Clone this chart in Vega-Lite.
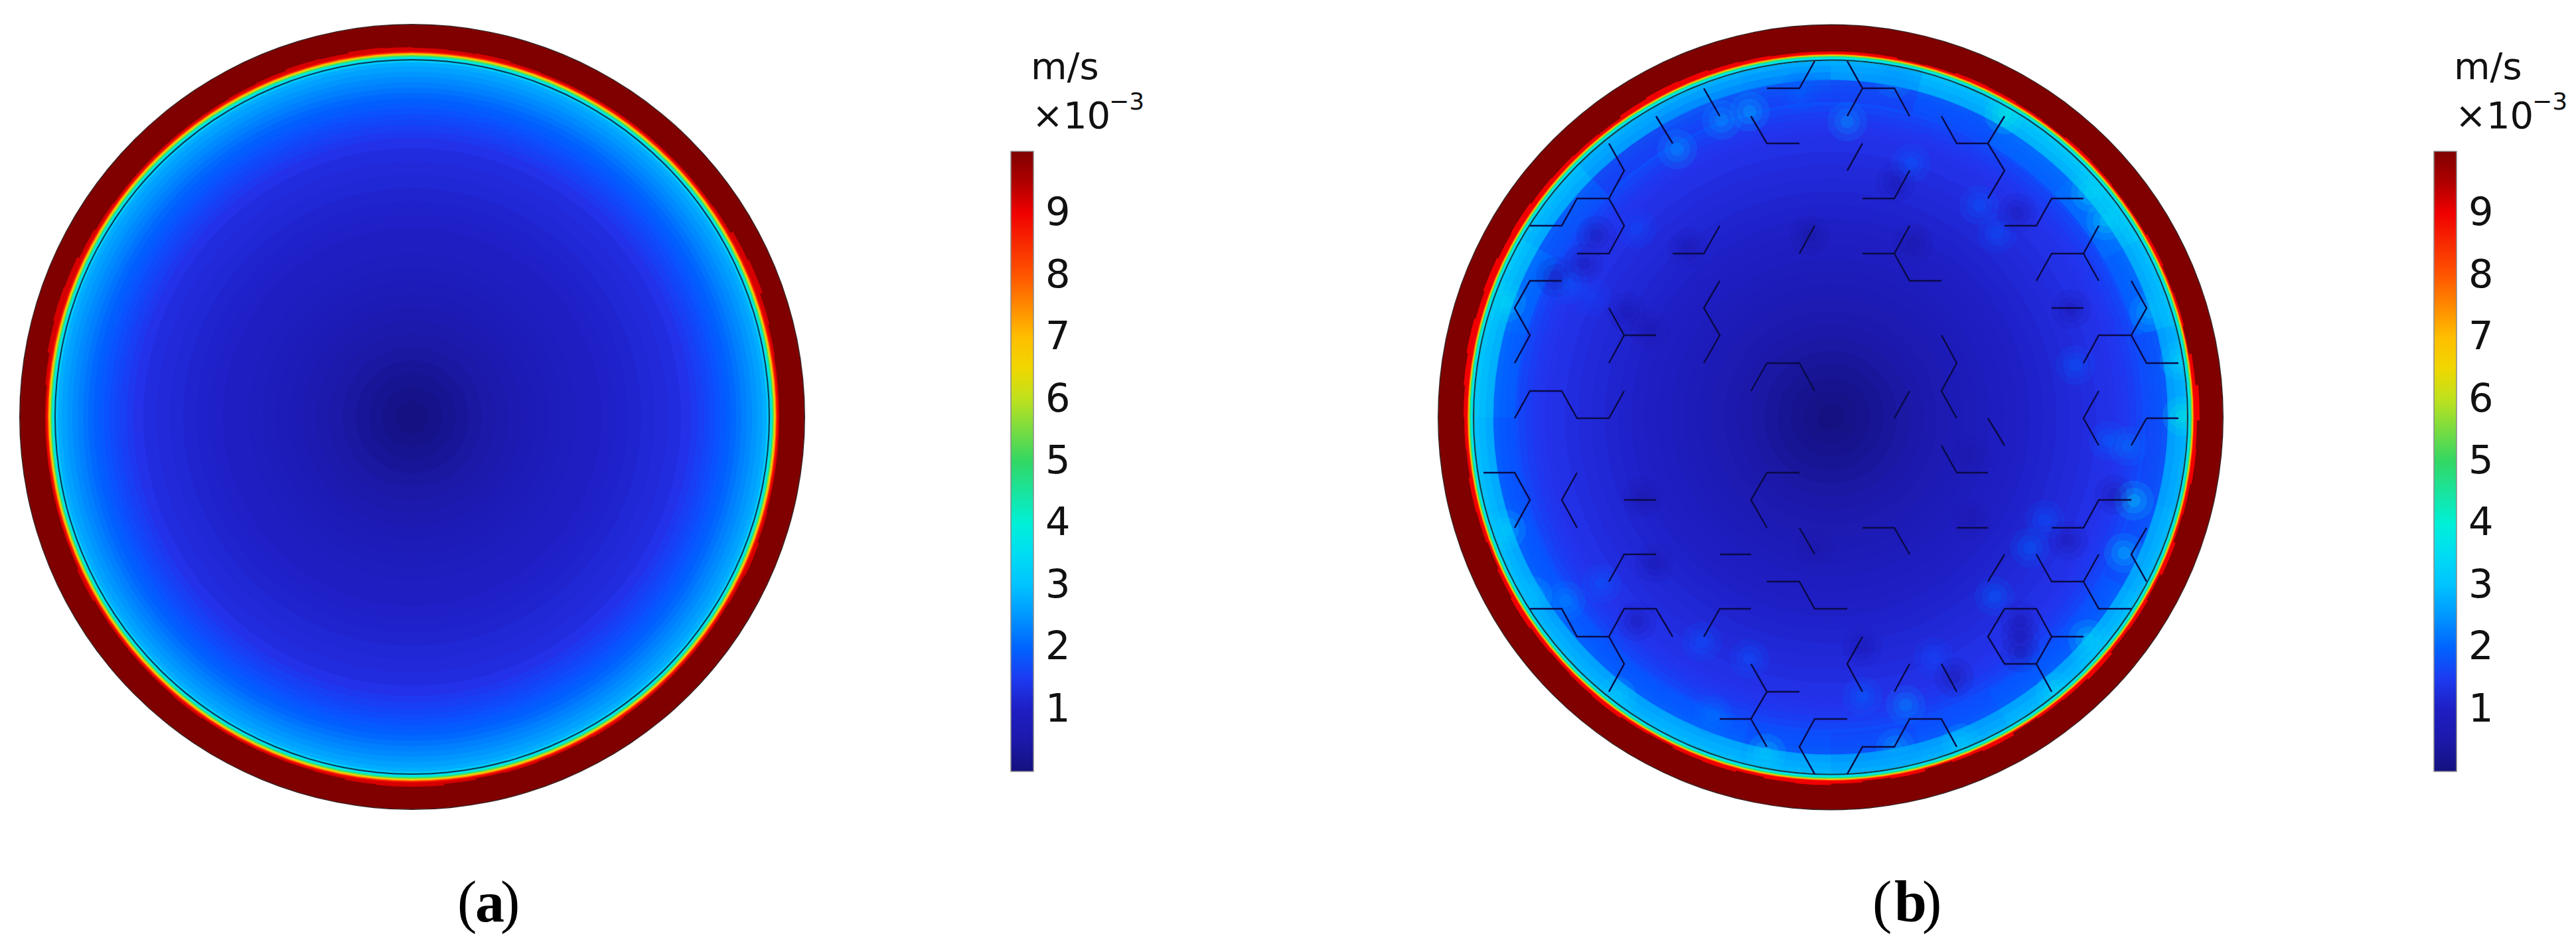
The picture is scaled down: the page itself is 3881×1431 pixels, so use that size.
{"$schema":"https://vega.github.io/schema/vega-lite/v6.json","width":3881,"height":1431,"padding":0,"autosize":{"type":"none"},"background":"white","config":{"view":{"stroke":null}},
"datasets":{
"a":[{"t0":0,"t1":360,"r0":0,"r":591,"v":10},
{"t0":0,"t1":5.5,"r0":0,"r":556,"v":9.2},{"t0":5,"t1":10.5,"r0":0,"r":555,"v":9.2},{"t0":10,"t1":15.5,"r0":0,"r":556,"v":9.2},{"t0":15,"t1":20.5,"r0":0,"r":554,"v":9.2},{"t0":20,"t1":25.5,"r0":0,"r":553,"v":9.2},{"t0":25,"t1":30.5,"r0":0,"r":553,"v":9.2},{"t0":30,"t1":35.5,"r0":0,"r":553,"v":9.2},{"t0":35,"t1":40.5,"r0":0,"r":553,"v":9.2},{"t0":40,"t1":45.5,"r0":0,"r":553,"v":9.2},{"t0":45,"t1":50.5,"r0":0,"r":553,"v":9.2},{"t0":50,"t1":55.5,"r0":0,"r":553,"v":9.2},{"t0":55,"t1":60.5,"r0":0,"r":554,"v":9.2},{"t0":60,"t1":65.5,"r0":0,"r":558,"v":9.2},{"t0":65,"t1":70.5,"r0":0,"r":560,"v":9.2},{"t0":70,"t1":75.5,"r0":0,"r":556,"v":9.2},{"t0":75,"t1":80.5,"r0":0,"r":554,"v":9.2},{"t0":80,"t1":85.5,"r0":0,"r":553,"v":9.2},{"t0":85,"t1":90.5,"r0":0,"r":553,"v":9.2},{"t0":90,"t1":95.5,"r0":0,"r":553,"v":9.2},{"t0":95,"t1":100.5,"r0":0,"r":553,"v":9.2},{"t0":100,"t1":105.5,"r0":0,"r":553,"v":9.2},{"t0":105,"t1":110.5,"r0":0,"r":554,"v":9.2},{"t0":110,"t1":115.5,"r0":0,"r":556,"v":9.2},{"t0":115,"t1":120.5,"r0":0,"r":554,"v":9.2},{"t0":120,"t1":125.5,"r0":0,"r":553,"v":9.2},{"t0":125,"t1":130.5,"r0":0,"r":553,"v":9.2},{"t0":130,"t1":135.5,"r0":0,"r":553,"v":9.2},{"t0":135,"t1":140.5,"r0":0,"r":553,"v":9.2},{"t0":140,"t1":145.5,"r0":0,"r":553,"v":9.2},{"t0":145,"t1":150.5,"r0":0,"r":554,"v":9.2},{"t0":150,"t1":155.5,"r0":0,"r":553,"v":9.2},{"t0":155,"t1":160.5,"r0":0,"r":553,"v":9.2},{"t0":160,"t1":165.5,"r0":0,"r":554,"v":9.2},{"t0":165,"t1":170.5,"r0":0,"r":553,"v":9.2},{"t0":170,"t1":175.5,"r0":0,"r":555,"v":9.2},{"t0":175,"t1":180.5,"r0":0,"r":557,"v":9.2},{"t0":180,"t1":185.5,"r0":0,"r":557,"v":9.2},{"t0":185,"t1":190.5,"r0":0,"r":556,"v":9.2},{"t0":190,"t1":195.5,"r0":0,"r":554,"v":9.2},{"t0":195,"t1":200.5,"r0":0,"r":553,"v":9.2},{"t0":200,"t1":205.5,"r0":0,"r":553,"v":9.2},{"t0":205,"t1":210.5,"r0":0,"r":553,"v":9.2},{"t0":210,"t1":215.5,"r0":0,"r":553,"v":9.2},{"t0":215,"t1":220.5,"r0":0,"r":554,"v":9.2},{"t0":220,"t1":225.5,"r0":0,"r":553,"v":9.2},{"t0":225,"t1":230.5,"r0":0,"r":553,"v":9.2},{"t0":230,"t1":235.5,"r0":0,"r":553,"v":9.2},{"t0":235,"t1":240.5,"r0":0,"r":553,"v":9.2},{"t0":240,"t1":245.5,"r0":0,"r":555,"v":9.2},{"t0":245,"t1":250.5,"r0":0,"r":553,"v":9.2},{"t0":250,"t1":255.5,"r0":0,"r":553,"v":9.2},{"t0":255,"t1":260.5,"r0":0,"r":553,"v":9.2},{"t0":260,"t1":265.5,"r0":0,"r":553,"v":9.2},{"t0":265,"t1":270.5,"r0":0,"r":553,"v":9.2},{"t0":270,"t1":275.5,"r0":0,"r":553,"v":9.2},{"t0":275,"t1":280.5,"r0":0,"r":555,"v":9.2},{"t0":280,"t1":285.5,"r0":0,"r":558,"v":9.2},{"t0":285,"t1":290.5,"r0":0,"r":560,"v":9.2},{"t0":290,"t1":295.5,"r0":0,"r":559,"v":9.2},{"t0":295,"t1":300.5,"r0":0,"r":556,"v":9.2},{"t0":300,"t1":305.5,"r0":0,"r":554,"v":9.2},{"t0":305,"t1":310.5,"r0":0,"r":553,"v":9.2},{"t0":310,"t1":315.5,"r0":0,"r":553,"v":9.2},{"t0":315,"t1":320.5,"r0":0,"r":553,"v":9.2},{"t0":320,"t1":325.5,"r0":0,"r":553,"v":9.2},{"t0":325,"t1":330.5,"r0":0,"r":553,"v":9.2},{"t0":330,"t1":335.5,"r0":0,"r":554,"v":9.2},{"t0":335,"t1":340.5,"r0":0,"r":555,"v":9.2},{"t0":340,"t1":345.5,"r0":0,"r":557,"v":9.2},{"t0":345,"t1":350.5,"r0":0,"r":556,"v":9.2},{"t0":350,"t1":355.5,"r0":0,"r":558,"v":9.2},{"t0":355,"t1":360,"r0":0,"r":557,"v":9.2},
{"t0":0,"t1":360,"r0":0,"r":551,"v":8.8},{"t0":0,"t1":360,"r0":0,"r":549,"v":8},{"t0":0,"t1":360,"r0":0,"r":548,"v":7.2},{"t0":0,"t1":360,"r0":0,"r":546.5,"v":6.3},{"t0":0,"t1":360,"r0":0,"r":545,"v":5.4},{"t0":0,"t1":360,"r0":0,"r":543.5,"v":4.5},{"t0":0,"t1":360,"r0":0,"r":542,"v":3.9},{"t0":0,"t1":360,"r0":0,"r":540,"v":3.1},{"t0":0,"t1":360,"r0":0,"r":534,"v":2.75},{"t0":0,"t1":360,"r0":0,"r":528,"v":2.62},{"t0":0,"t1":360,"r0":0,"r":520,"v":2.5},{"t0":0,"t1":360,"r0":0,"r":512,"v":2.38},{"t0":0,"t1":360,"r0":0,"r":504,"v":2.28},{"t0":0,"t1":360,"r0":0,"r":496,"v":2.16},{"t0":0,"t1":360,"r0":0,"r":488,"v":2.04},{"t0":0,"t1":360,"r0":0,"r":480,"v":1.94},{"t0":0,"t1":360,"r0":0,"r":472,"v":1.85},{"t0":0,"t1":360,"r0":0,"r":464,"v":1.76},{"t0":0,"t1":360,"r0":0,"r":456,"v":1.68},{"t0":0,"t1":360,"r0":0,"r":448,"v":1.62},{"t0":0,"t1":360,"r0":0,"r":440,"v":1.55},{"t0":0,"t1":360,"r0":0,"r":430,"v":1.47},{"t0":0,"t1":360,"r0":0,"r":420,"v":1.38},{"t0":0,"t1":360,"r0":0,"r":405,"v":1.28},{"t0":0,"t1":360,"r0":0,"r":385,"v":1.22},{"t0":0,"t1":360,"r0":0,"r":365,"v":1.17},{"t0":0,"t1":360,"r0":0,"r":345,"v":1.12},{"t0":0,"t1":360,"r0":0,"r":325,"v":1.08},{"t0":0,"t1":360,"r0":0,"r":305,"v":1.04},{"t0":0,"t1":360,"r0":0,"r":285,"v":1.0},{"t0":0,"t1":360,"r0":0,"r":265,"v":0.95},{"t0":0,"t1":360,"r0":0,"r":245,"v":0.9},{"t0":0,"t1":360,"r0":0,"r":225,"v":0.85},{"t0":0,"t1":360,"r0":0,"r":205,"v":0.79},{"t0":0,"t1":360,"r0":0,"r":185,"v":0.72},{"t0":0,"t1":360,"r0":0,"r":165,"v":0.64},{"t0":0,"t1":360,"r0":0,"r":145,"v":0.56},{"t0":0,"t1":360,"r0":0,"r":125,"v":0.48},{"t0":0,"t1":360,"r0":0,"r":105,"v":0.4},{"t0":0,"t1":360,"r0":0,"r":85,"v":0.3},{"t0":0,"t1":360,"r0":0,"r":65,"v":0.21},{"t0":0,"t1":360,"r0":0,"r":45,"v":0.12},{"t0":0,"t1":360,"r0":0,"r":25,"v":0.05}],
"bInner":[{"r":537,"v":2.85},{"r":530,"v":2.6},{"r":520,"v":2.3},{"r":510,"v":2.1},{"r":500,"v":1.95},{"r":490,"v":1.8},{"r":480,"v":1.7},{"r":470,"v":1.6},{"r":460,"v":1.52},{"r":450,"v":1.46},{"r":440,"v":1.42},{"r":430,"v":1.38},{"r":420,"v":1.35},{"r":400,"v":1.28},{"r":380,"v":1.22},{"r":360,"v":1.17},{"r":340,"v":1.12},{"r":320,"v":1.07},{"r":300,"v":1.02},{"r":280,"v":0.97},{"r":260,"v":0.92},{"r":240,"v":0.86},{"r":220,"v":0.8},{"r":200,"v":0.73},{"r":180,"v":0.66},{"r":160,"v":0.58},{"r":140,"v":0.5},{"r":120,"v":0.42},{"r":100,"v":0.34},{"r":80,"v":0.26},{"r":60,"v":0.18},{"r":40,"v":0.1},{"r":20,"v":0.04}],
"bOver":[{"t0":-15,"t1":15,"r0":475,"r":508,"v":1.4},{"t0":-15,"t1":15,"r0":508,"r":537,"v":2.5},{"t0":0,"t1":30,"r0":475,"r":508,"v":1.6},{"t0":0,"t1":30,"r0":508,"r":537,"v":2.8},{"t0":15,"t1":45,"r0":475,"r":508,"v":1.8},{"t0":15,"t1":45,"r0":508,"r":537,"v":3.1},{"t0":30,"t1":60,"r0":475,"r":508,"v":2.2},{"t0":30,"t1":60,"r0":508,"r":537,"v":3.3},{"t0":45,"t1":75,"r0":475,"r":508,"v":2.2},{"t0":45,"t1":75,"r0":508,"r":537,"v":3.3},{"t0":60,"t1":90,"r0":475,"r":508,"v":1.9},{"t0":60,"t1":90,"r0":508,"r":537,"v":2.9},{"t0":75,"t1":105,"r0":475,"r":508,"v":1.6},{"t0":75,"t1":105,"r0":508,"r":537,"v":2.7},{"t0":90,"t1":120,"r0":475,"r":508,"v":1.6},{"t0":90,"t1":120,"r0":508,"r":537,"v":2.8},{"t0":105,"t1":135,"r0":475,"r":508,"v":1.7},{"t0":105,"t1":135,"r0":508,"r":537,"v":2.9},{"t0":120,"t1":150,"r0":475,"r":508,"v":1.9},{"t0":120,"t1":150,"r0":508,"r":537,"v":3.0},{"t0":135,"t1":165,"r0":475,"r":508,"v":1.8},{"t0":135,"t1":165,"r0":508,"r":537,"v":2.8},{"t0":150,"t1":180,"r0":475,"r":508,"v":1.7},{"t0":150,"t1":180,"r0":508,"r":537,"v":2.7},{"t0":165,"t1":195,"r0":475,"r":508,"v":1.6},{"t0":165,"t1":195,"r0":508,"r":537,"v":2.7},{"t0":180,"t1":210,"r0":475,"r":508,"v":1.8},{"t0":180,"t1":210,"r0":508,"r":537,"v":2.9},{"t0":195,"t1":225,"r0":475,"r":508,"v":1.9},{"t0":195,"t1":225,"r0":508,"r":537,"v":2.9},{"t0":210,"t1":240,"r0":475,"r":508,"v":1.8},{"t0":210,"t1":240,"r0":508,"r":537,"v":2.8},{"t0":225,"t1":255,"r0":475,"r":508,"v":1.9},{"t0":225,"t1":255,"r0":508,"r":537,"v":2.9},{"t0":240,"t1":270,"r0":475,"r":508,"v":1.8},{"t0":240,"t1":270,"r0":508,"r":537,"v":3.0},{"t0":255,"t1":285,"r0":475,"r":508,"v":1.8},{"t0":255,"t1":285,"r0":508,"r":537,"v":3.0},{"t0":270,"t1":300,"r0":475,"r":508,"v":2.1},{"t0":270,"t1":300,"r0":508,"r":537,"v":3.3},{"t0":285,"t1":315,"r0":475,"r":508,"v":2.1},{"t0":285,"t1":315,"r0":508,"r":537,"v":3.2},{"t0":300,"t1":330,"r0":475,"r":508,"v":1.6},{"t0":300,"t1":330,"r0":508,"r":537,"v":2.9},{"t0":315,"t1":345,"r0":475,"r":508,"v":1.4},{"t0":315,"t1":345,"r0":508,"r":537,"v":2.6}],
"spots":[{"x":2636,"y":168,"v":2.8},{"x":2594,"y":181,"v":2.6},{"x":2527,"y":225,"v":2.6},{"x":2711,"y":137,"v":2},{"x":2269,"y":455,"v":3.5},{"x":2397,"y":447,"v":1.6},{"x":2466,"y":344,"v":1.7},{"x":2363,"y":428,"v":1.9},{"x":2783,"y":183,"v":2.5},{"x":2879,"y":246,"v":1.9},{"x":2854,"y":118,"v":2.5},{"x":3020,"y":172,"v":4},{"x":2982,"y":309,"v":1.9},{"x":3009,"y":351,"v":1.8},{"x":3150,"y":290,"v":3.5},{"x":3173,"y":332,"v":3.5},{"x":3238,"y":470,"v":3},{"x":3127,"y":550,"v":1.9},{"x":3288,"y":627,"v":4},{"x":3284,"y":543,"v":3.5},{"x":2269,"y":798,"v":3.3},{"x":2359,"y":905,"v":2.4},{"x":2309,"y":898,"v":3},{"x":2413,"y":879,"v":1.9},{"x":2564,"y":967,"v":1.8},{"x":2636,"y":992,"v":1.8},{"x":2435,"y":1049,"v":3.2},{"x":2661,"y":1135,"v":3.3},{"x":2581,"y":1078,"v":2.2},{"x":3215,"y":754,"v":3.3},{"x":3200,"y":833,"v":3},{"x":3146,"y":963,"v":3.4},{"x":3058,"y":825,"v":2},{"x":3005,"y":898,"v":2},{"x":3081,"y":783,"v":1.8},{"x":2806,"y":1049,"v":2},{"x":2871,"y":1062,"v":2.4},{"x":2955,"y":1120,"v":3.2},{"x":2856,"y":1127,"v":2.7},{"x":3097,"y":1043,"v":3.5},{"x":3177,"y":664,"v":2},{"x":3206,"y":672,"v":2.2},{"x":2913,"y":990,"v":1.7},{"x":2386,"y":397,"v":0.6},{"x":2344,"y":417,"v":0.6},{"x":2451,"y":470,"v":0.6},{"x":2485,"y":497,"v":0.6},{"x":2405,"y":355,"v":0.6},{"x":2543,"y":374,"v":0.6},{"x":2726,"y":355,"v":0.4},{"x":2856,"y":275,"v":0.6},{"x":2882,"y":367,"v":0.5},{"x":3120,"y":466,"v":0.6},{"x":3039,"y":321,"v":0.7},{"x":2474,"y":749,"v":0.5},{"x":2493,"y":848,"v":0.6},{"x":2734,"y":825,"v":0.5},{"x":2466,"y":936,"v":0.7},{"x":2970,"y":783,"v":0.6},{"x":2944,"y":1020,"v":0.5},{"x":2806,"y":974,"v":0.7},{"x":3116,"y":814,"v":0.6},{"x":3185,"y":745,"v":0.6},{"x":2970,"y":687,"v":0.5},{"x":3044,"y":959,"v":0.6},{"x":3044,"y":935,"v":0.6},{"x":3044,"y":983,"v":0.6}],
"bEdge":[{"t0":0,"t1":360,"r":591,"v":10},
{"t0":0,"t1":5.5,"r":551,"v":9},{"t0":5,"t1":10.5,"r":551,"v":9},{"t0":10,"t1":15.5,"r":549,"v":9},{"t0":15,"t1":20.5,"r":550,"v":9},{"t0":20,"t1":25.5,"r":552,"v":9},{"t0":25,"t1":30.5,"r":551,"v":9},{"t0":30,"t1":35.5,"r":550,"v":9},{"t0":35,"t1":40.5,"r":549,"v":9},{"t0":40,"t1":45.5,"r":551,"v":9},{"t0":45,"t1":50.5,"r":550,"v":9},{"t0":50,"t1":55.5,"r":549,"v":9},{"t0":55,"t1":60.5,"r":549,"v":9},{"t0":60,"t1":65.5,"r":551,"v":9},{"t0":65,"t1":70.5,"r":549,"v":9},{"t0":70,"t1":75.5,"r":550,"v":9},{"t0":75,"t1":80.5,"r":548,"v":9},{"t0":80,"t1":85.5,"r":552,"v":9},{"t0":85,"t1":90.5,"r":556,"v":9},{"t0":90,"t1":95.5,"r":552,"v":9},{"t0":95,"t1":100.5,"r":553,"v":9},{"t0":100,"t1":105.5,"r":551,"v":9},{"t0":105,"t1":110.5,"r":550,"v":9},{"t0":110,"t1":115.5,"r":553,"v":9},{"t0":115,"t1":120.5,"r":550,"v":9},{"t0":120,"t1":125.5,"r":552,"v":9},{"t0":125,"t1":130.5,"r":551,"v":9},{"t0":130,"t1":135.5,"r":554,"v":9},{"t0":135,"t1":140.5,"r":552,"v":9},{"t0":140,"t1":145.5,"r":551,"v":9},{"t0":145,"t1":150.5,"r":549,"v":9},{"t0":150,"t1":155.5,"r":553,"v":9},{"t0":155,"t1":160.5,"r":551,"v":9},{"t0":160,"t1":165.5,"r":549,"v":9},{"t0":165,"t1":170.5,"r":552,"v":9},{"t0":170,"t1":175.5,"r":550,"v":9},{"t0":175,"t1":180.5,"r":552,"v":9},{"t0":180,"t1":185.5,"r":554,"v":9},{"t0":185,"t1":190.5,"r":553,"v":9},{"t0":190,"t1":195.5,"r":551,"v":9},{"t0":195,"t1":200.5,"r":553,"v":9},{"t0":200,"t1":205.5,"r":552,"v":9},{"t0":205,"t1":210.5,"r":550,"v":9},{"t0":210,"t1":215.5,"r":551,"v":9},{"t0":215,"t1":220.5,"r":553,"v":9},{"t0":220,"t1":225.5,"r":552,"v":9},{"t0":225,"t1":230.5,"r":551,"v":9},{"t0":230,"t1":235.5,"r":552,"v":9},{"t0":235,"t1":240.5,"r":554,"v":9},{"t0":240,"t1":245.5,"r":552,"v":9},{"t0":245,"t1":250.5,"r":550,"v":9},{"t0":250,"t1":255.5,"r":552,"v":9},{"t0":255,"t1":260.5,"r":553,"v":9},{"t0":260,"t1":265.5,"r":551,"v":9},{"t0":265,"t1":270.5,"r":552,"v":9},{"t0":270,"t1":275.5,"r":553,"v":9},{"t0":275,"t1":280.5,"r":555,"v":9},{"t0":280,"t1":285.5,"r":557,"v":9},{"t0":285,"t1":290.5,"r":555,"v":9},{"t0":290,"t1":295.5,"r":557,"v":9},{"t0":295,"t1":300.5,"r":555,"v":9},{"t0":300,"t1":305.5,"r":556,"v":9},{"t0":305,"t1":310.5,"r":554,"v":9},{"t0":310,"t1":315.5,"r":553,"v":9},{"t0":315,"t1":320.5,"r":552,"v":9},{"t0":320,"t1":325.5,"r":551,"v":9},{"t0":325,"t1":330.5,"r":554,"v":9},{"t0":330,"t1":335.5,"r":556,"v":9},{"t0":335,"t1":340.5,"r":555,"v":9},{"t0":340,"t1":345.5,"r":553,"v":9},{"t0":345,"t1":350.5,"r":552,"v":9},{"t0":350,"t1":355.5,"r":551,"v":9},{"t0":355,"t1":360,"r":551,"v":9},
{"t0":0,"t1":360,"r":547.5,"v":8.3},{"t0":0,"t1":360,"r":546.5,"v":7.4},{"t0":0,"t1":360,"r":545.5,"v":6.4},{"t0":0,"t1":360,"r":544.5,"v":5.4},{"t0":0,"t1":360,"r":543.5,"v":4.6},{"t0":0,"t1":360,"r":542,"v":3.8},{"t0":0,"t1":360,"r":540,"v":3.3}],
"rings":[{"cx":621,"cy":628,"r0":537,"r":539},{"cx":2758,"cy":628.5,"r0":537,"r":539}],
"edges":[{"cx":621,"cy":628,"r0":590.5,"r":592},{"cx":2758,"cy":628.5,"r0":590.5,"r":592}],
"hex":[{"s":1,"o":1,"x":2662,"y":133},{"s":1,"o":2,"x":2711,"y":133},{"s":1,"o":3,"x":2734,"y":92},{"s":2,"o":1,"x":2783,"y":92},{"s":2,"o":2,"x":2806,"y":133},{"s":2,"o":3,"x":2854,"y":133},{"s":2,"o":4,"x":2877,"y":175},{"s":3,"o":1,"x":2806,"y":133},{"s":3,"o":2,"x":2783,"y":175},{"s":4,"o":1,"x":2567,"y":133},{"s":4,"o":2,"x":2591,"y":175},{"s":5,"o":1,"x":2495,"y":175},{"s":5,"o":2,"x":2520,"y":216},{"s":6,"o":1,"x":2638,"y":175},{"s":6,"o":2,"x":2662,"y":216},{"s":6,"o":3,"x":2711,"y":216},{"s":7,"o":1,"x":2424,"y":216},{"s":7,"o":2,"x":2447,"y":257},{"s":7,"o":3,"x":2424,"y":299},{"s":7,"o":4,"x":2376,"y":299},{"s":7,"o":5,"x":2353,"y":340},{"s":7,"o":6,"x":2305,"y":340},{"s":8,"o":1,"x":2424,"y":299},{"s":8,"o":2,"x":2447,"y":340},{"s":8,"o":3,"x":2424,"y":382},{"s":8,"o":4,"x":2376,"y":382},{"s":9,"o":1,"x":2520,"y":382},{"s":9,"o":2,"x":2567,"y":382},{"s":9,"o":3,"x":2591,"y":340},{"s":10,"o":1,"x":2711,"y":382},{"s":10,"o":2,"x":2734,"y":340},{"s":11,"o":1,"x":2353,"y":423},{"s":11,"o":2,"x":2305,"y":423},{"s":11,"o":3,"x":2282,"y":464},{"s":11,"o":4,"x":2305,"y":505},{"s":11,"o":5,"x":2282,"y":547},{"s":12,"o":1,"x":2424,"y":464},{"s":12,"o":2,"x":2447,"y":505},{"s":12,"o":3,"x":2495,"y":505},{"s":13,"o":1,"x":2447,"y":505},{"s":13,"o":2,"x":2424,"y":547},{"s":14,"o":1,"x":2591,"y":423},{"s":14,"o":2,"x":2567,"y":464},{"s":14,"o":3,"x":2591,"y":505},{"s":14,"o":4,"x":2567,"y":547},{"s":15,"o":1,"x":2638,"y":589},{"s":15,"o":2,"x":2662,"y":547},{"s":15,"o":3,"x":2711,"y":547},{"s":15,"o":4,"x":2734,"y":589},{"s":16,"o":1,"x":2282,"y":630},{"s":16,"o":2,"x":2305,"y":589},{"s":16,"o":3,"x":2353,"y":589},{"s":16,"o":4,"x":2376,"y":630},{"s":16,"o":5,"x":2424,"y":630},{"s":16,"o":6,"x":2447,"y":589},{"s":17,"o":1,"x":2925,"y":175},{"s":17,"o":2,"x":2948,"y":216},{"s":17,"o":3,"x":2995,"y":216},{"s":17,"o":4,"x":3020,"y":175},{"s":18,"o":1,"x":2995,"y":216},{"s":18,"o":2,"x":3020,"y":257},{"s":18,"o":3,"x":2995,"y":299},{"s":19,"o":1,"x":2806,"y":216},{"s":19,"o":2,"x":2783,"y":257},{"s":20,"o":1,"x":2877,"y":257},{"s":20,"o":2,"x":2854,"y":299},{"s":20,"o":3,"x":2806,"y":299},{"s":21,"o":1,"x":3139,"y":299},{"s":21,"o":2,"x":3091,"y":299},{"s":21,"o":3,"x":3068,"y":340},{"s":21,"o":4,"x":3020,"y":340},{"s":22,"o":1,"x":2877,"y":340},{"s":22,"o":2,"x":2854,"y":382},{"s":22,"o":3,"x":2806,"y":382},{"s":23,"o":1,"x":2854,"y":382},{"s":23,"o":2,"x":2877,"y":423},{"s":23,"o":3,"x":2925,"y":423},{"s":24,"o":1,"x":3162,"y":340},{"s":24,"o":2,"x":3139,"y":382},{"s":24,"o":3,"x":3091,"y":382},{"s":24,"o":4,"x":3068,"y":423},{"s":25,"o":1,"x":3139,"y":382},{"s":25,"o":2,"x":3162,"y":423},{"s":26,"o":1,"x":3091,"y":464},{"s":26,"o":2,"x":3139,"y":464},{"s":27,"o":1,"x":3211,"y":423},{"s":27,"o":2,"x":3234,"y":464},{"s":27,"o":3,"x":3211,"y":505},{"s":27,"o":4,"x":3162,"y":505},{"s":27,"o":5,"x":3139,"y":547},{"s":28,"o":1,"x":3211,"y":505},{"s":28,"o":2,"x":3234,"y":547},{"s":28,"o":3,"x":3282,"y":547},{"s":29,"o":1,"x":2925,"y":505},{"s":29,"o":2,"x":2948,"y":547},{"s":29,"o":3,"x":2925,"y":589},{"s":29,"o":4,"x":2948,"y":630},{"s":30,"o":1,"x":2877,"y":589},{"s":30,"o":2,"x":2854,"y":630},{"s":31,"o":1,"x":2995,"y":630},{"s":31,"o":2,"x":3020,"y":671},{"s":32,"o":1,"x":3162,"y":589},{"s":32,"o":2,"x":3139,"y":630},{"s":32,"o":3,"x":3162,"y":671},{"s":33,"o":1,"x":3234,"y":630},{"s":33,"o":2,"x":3282,"y":630},{"s":34,"o":1,"x":3234,"y":630},{"s":34,"o":2,"x":3211,"y":671},{"s":35,"o":1,"x":2235,"y":712},{"s":35,"o":2,"x":2282,"y":712},{"s":35,"o":3,"x":2305,"y":753},{"s":35,"o":4,"x":2282,"y":795},{"s":36,"o":1,"x":2376,"y":712},{"s":36,"o":2,"x":2353,"y":753},{"s":36,"o":3,"x":2376,"y":795},{"s":37,"o":1,"x":2447,"y":753},{"s":37,"o":2,"x":2495,"y":753},{"s":38,"o":1,"x":2711,"y":712},{"s":38,"o":2,"x":2662,"y":712},{"s":38,"o":3,"x":2638,"y":753},{"s":38,"o":4,"x":2662,"y":795},{"s":39,"o":1,"x":2711,"y":795},{"s":39,"o":2,"x":2734,"y":835},{"s":40,"o":1,"x":2591,"y":835},{"s":40,"o":2,"x":2638,"y":835},{"s":41,"o":1,"x":2495,"y":835},{"s":41,"o":2,"x":2447,"y":835},{"s":41,"o":3,"x":2424,"y":876},{"s":42,"o":1,"x":2662,"y":876},{"s":42,"o":2,"x":2711,"y":876},{"s":42,"o":3,"x":2734,"y":917},{"s":42,"o":4,"x":2783,"y":917},{"s":43,"o":1,"x":2305,"y":917},{"s":43,"o":2,"x":2353,"y":917},{"s":43,"o":3,"x":2376,"y":959},{"s":43,"o":4,"x":2424,"y":959},{"s":43,"o":5,"x":2447,"y":917},{"s":43,"o":6,"x":2495,"y":917},{"s":43,"o":7,"x":2520,"y":959},{"s":44,"o":1,"x":2424,"y":959},{"s":44,"o":2,"x":2447,"y":1000},{"s":44,"o":3,"x":2424,"y":1042},{"s":45,"o":1,"x":2638,"y":917},{"s":45,"o":2,"x":2591,"y":917},{"s":45,"o":3,"x":2567,"y":959},{"s":46,"o":1,"x":2638,"y":1000},{"s":46,"o":2,"x":2662,"y":1042},{"s":46,"o":3,"x":2711,"y":1042},{"s":47,"o":1,"x":2662,"y":1042},{"s":47,"o":2,"x":2638,"y":1083},{"s":47,"o":3,"x":2591,"y":1083},{"s":48,"o":1,"x":2638,"y":1083},{"s":48,"o":2,"x":2662,"y":1125},{"s":49,"o":1,"x":2783,"y":1083},{"s":49,"o":2,"x":2734,"y":1083},{"s":49,"o":3,"x":2711,"y":1125},{"s":49,"o":4,"x":2734,"y":1166},{"s":50,"o":1,"x":2806,"y":795},{"s":50,"o":2,"x":2854,"y":795},{"s":50,"o":3,"x":2877,"y":835},{"s":51,"o":1,"x":2925,"y":671},{"s":51,"o":2,"x":2948,"y":712},{"s":51,"o":3,"x":2995,"y":712},{"s":52,"o":1,"x":2948,"y":795},{"s":52,"o":2,"x":2995,"y":795},{"s":53,"o":1,"x":3211,"y":753},{"s":53,"o":2,"x":3162,"y":753},{"s":53,"o":3,"x":3139,"y":795},{"s":53,"o":4,"x":3091,"y":795},{"s":54,"o":1,"x":3020,"y":835},{"s":54,"o":2,"x":2995,"y":876},{"s":55,"o":1,"x":3068,"y":835},{"s":55,"o":2,"x":3091,"y":876},{"s":55,"o":3,"x":3139,"y":876},{"s":55,"o":4,"x":3162,"y":835},{"s":56,"o":1,"x":3139,"y":876},{"s":56,"o":2,"x":3162,"y":917},{"s":56,"o":3,"x":3211,"y":917},{"s":57,"o":1,"x":3234,"y":795},{"s":57,"o":2,"x":3211,"y":835},{"s":57,"o":3,"x":3234,"y":876},{"s":58,"o":1,"x":3020,"y":917},{"s":58,"o":2,"x":3068,"y":917},{"s":58,"o":3,"x":3091,"y":959},{"s":58,"o":4,"x":3068,"y":1000},{"s":58,"o":5,"x":3020,"y":1000},{"s":58,"o":6,"x":2995,"y":959},{"s":58,"o":7,"x":3020,"y":917},{"s":59,"o":1,"x":3091,"y":959},{"s":59,"o":2,"x":3139,"y":959},{"s":60,"o":1,"x":3068,"y":1000},{"s":60,"o":2,"x":3091,"y":1042},{"s":61,"o":1,"x":2806,"y":959},{"s":61,"o":2,"x":2783,"y":1000},{"s":61,"o":3,"x":2806,"y":1042},{"s":62,"o":1,"x":2877,"y":1000},{"s":62,"o":2,"x":2854,"y":1042},{"s":63,"o":1,"x":2925,"y":1000},{"s":63,"o":2,"x":2948,"y":1042},{"s":64,"o":1,"x":2783,"y":1166},{"s":64,"o":2,"x":2806,"y":1125},{"s":64,"o":3,"x":2854,"y":1125},{"s":64,"o":4,"x":2877,"y":1083},{"s":64,"o":5,"x":2925,"y":1083},{"s":64,"o":6,"x":2948,"y":1125}],
"ticks":[{"x":1523,"x2":1530,"y":1069},{"x":1550,"x2":1557,"y":1069},{"x":1523,"x2":1530,"y":975},{"x":1550,"x2":1557,"y":975},{"x":1523,"x2":1530,"y":882},{"x":1550,"x2":1557,"y":882},{"x":1523,"x2":1530,"y":789},{"x":1550,"x2":1557,"y":789},{"x":1523,"x2":1530,"y":695},{"x":1550,"x2":1557,"y":695},{"x":1523,"x2":1530,"y":602},{"x":1550,"x2":1557,"y":602},{"x":1523,"x2":1530,"y":509},{"x":1550,"x2":1557,"y":509},{"x":1523,"x2":1530,"y":415},{"x":1550,"x2":1557,"y":415},{"x":1523,"x2":1530,"y":322},{"x":1550,"x2":1557,"y":322},{"x":3667,"x2":3674,"y":1069},{"x":3694,"x2":3701,"y":1069},{"x":3667,"x2":3674,"y":975},{"x":3694,"x2":3701,"y":975},{"x":3667,"x2":3674,"y":882},{"x":3694,"x2":3701,"y":882},{"x":3667,"x2":3674,"y":789},{"x":3694,"x2":3701,"y":789},{"x":3667,"x2":3674,"y":695},{"x":3694,"x2":3701,"y":695},{"x":3667,"x2":3674,"y":602},{"x":3694,"x2":3701,"y":602},{"x":3667,"x2":3674,"y":509},{"x":3694,"x2":3701,"y":509},{"x":3667,"x2":3674,"y":415},{"x":3694,"x2":3701,"y":415},{"x":3667,"x2":3674,"y":322},{"x":3694,"x2":3701,"y":322}],
"units":[{"x":1553,"y":119,"t":"m/s"},{"x":1555,"y":193,"t":"×10"},{"x":3697,"y":119,"t":"m/s"},{"x":3699,"y":193,"t":"×10"}],
"sups":[{"x":1671,"y":165,"t":"−3"},{"x":3815,"y":165,"t":"−3"}],
"parens":[{"x":689,"y":1388,"t":"("},{"x":754,"y":1388,"t":")"},{"x":2821,"y":1388,"t":"("},{"x":2896,"y":1388,"t":")"}],
"letters":[{"x":716,"y":1388,"t":"a"},{"x":2854,"y":1388,"t":"b"}]
},
"layer":[
{"data":{"name":"a"},"mark":{"type":"arc"},"encoding":{"x":{"datum":621,"type":"quantitative","scale":{"domain":[0,3881],"range":[0,3881],"nice":false,"zero":false},"axis":null},"y":{"datum":628,"type":"quantitative","scale":{"domain":[1431,0],"range":[1431,0],"nice":false,"zero":false},"axis":null},"theta":{"field":"t0","type":"quantitative","stack":null,"scale":{"domain":[0,360],"range":[0,6.283185]}},"theta2":{"field":"t1"},"radius":{"field":"r","type":"quantitative","stack":null,"scale":{"type":"linear","domain":[0,800],"range":[0,800]}},"radius2":{"field":"r0"},"color":{"field":"v","type":"quantitative","scale":{"interpolate":"rgb","domain":[0,0.5,1,1.4,1.75,2,2.5,3,3.6,4,5,6,6.5,7,8,9,9.5,10],"range":["#14107f","#1c19aa","#1e1ec3","#2332eb","#0a50ff","#0064ff","#0096ff","#00c3ff","#00e1f0","#00f0d7","#32d764","#bee11e","#f0d700","#ffbe00","#ff5500","#f00000","#af0000","#800000"]},"legend":{"values":[1,2,3,4,5,6,7,8,9],"orient":"none","legendX":1523,"legendY":228,"title":null,"gradientLength":934,"gradientThickness":34,"direction":"vertical","labelFontSize":59,"labelFont":"DejaVu Sans","labelOffset":18,"labelColor":"#111111","gradientStrokeColor":"#888888","gradientStrokeWidth":1.5,"labelOverlap":false,"format":"d"}}}},
{"data":{"name":"bInner"},"mark":{"type":"arc","theta":0,"theta2":6.283185},"encoding":{"x":{"datum":2758,"type":"quantitative","scale":{"domain":[0,3881],"range":[0,3881],"nice":false,"zero":false},"axis":null},"y":{"datum":628.5,"type":"quantitative","scale":{"domain":[1431,0],"range":[1431,0],"nice":false,"zero":false},"axis":null},"radius":{"field":"r","type":"quantitative","stack":null,"scale":{"type":"linear","domain":[0,800],"range":[0,800]}},"color":{"field":"v","type":"quantitative","scale":{"interpolate":"rgb","domain":[0,0.5,1,1.4,1.75,2,2.5,3,3.6,4,5,6,6.5,7,8,9,9.5,10],"range":["#14107f","#1c19aa","#1e1ec3","#2332eb","#0a50ff","#0064ff","#0096ff","#00c3ff","#00e1f0","#00f0d7","#32d764","#bee11e","#f0d700","#ffbe00","#ff5500","#f00000","#af0000","#800000"]},"legend":{"values":[1,2,3,4,5,6,7,8,9],"orient":"none","legendX":3667,"legendY":228,"title":null,"gradientLength":934,"gradientThickness":34,"direction":"vertical","labelFontSize":59,"labelFont":"DejaVu Sans","labelOffset":18,"labelColor":"#111111","gradientStrokeColor":"#888888","gradientStrokeWidth":1.5,"labelOverlap":false,"format":"d"}}}},
{"data":{"name":"bOver"},"mark":{"type":"arc","opacity":0.4},"encoding":{"x":{"datum":2758,"type":"quantitative","scale":{"domain":[0,3881],"range":[0,3881],"nice":false,"zero":false},"axis":null},"y":{"datum":628.5,"type":"quantitative","scale":{"domain":[1431,0],"range":[1431,0],"nice":false,"zero":false},"axis":null},"theta":{"field":"t0","type":"quantitative","stack":null,"scale":{"domain":[0,360],"range":[0,6.283185]}},"theta2":{"field":"t1"},"radius":{"field":"r","type":"quantitative","stack":null,"scale":{"type":"linear","domain":[0,800],"range":[0,800]}},"radius2":{"field":"r0"},"color":{"field":"v","type":"quantitative","legend":null,"scale":{"interpolate":"rgb","domain":[0,0.5,1,1.4,1.75,2,2.5,3,3.6,4,5,6,6.5,7,8,9,9.5,10],"range":["#14107f","#1c19aa","#1e1ec3","#2332eb","#0a50ff","#0064ff","#0096ff","#00c3ff","#00e1f0","#00f0d7","#32d764","#bee11e","#f0d700","#ffbe00","#ff5500","#f00000","#af0000","#800000"]}}}},
{"data":{"name":"spots"},"mark":{"type":"circle","size":3600,"opacity":0.16},"encoding":{"x":{"field":"x","type":"quantitative","scale":{"domain":[0,3881],"range":[0,3881],"nice":false,"zero":false},"axis":null},"y":{"field":"y","type":"quantitative","scale":{"domain":[1431,0],"range":[1431,0],"nice":false,"zero":false},"axis":null},"color":{"field":"v","type":"quantitative","legend":null,"scale":{"interpolate":"rgb","domain":[0,0.5,1,1.4,1.75,2,2.5,3,3.6,4,5,6,6.5,7,8,9,9.5,10],"range":["#14107f","#1c19aa","#1e1ec3","#2332eb","#0a50ff","#0064ff","#0096ff","#00c3ff","#00e1f0","#00f0d7","#32d764","#bee11e","#f0d700","#ffbe00","#ff5500","#f00000","#af0000","#800000"]}}}},
{"data":{"name":"spots"},"mark":{"type":"circle","size":1500,"opacity":0.2},"encoding":{"x":{"field":"x","type":"quantitative","scale":{"domain":[0,3881],"range":[0,3881],"nice":false,"zero":false},"axis":null},"y":{"field":"y","type":"quantitative","scale":{"domain":[1431,0],"range":[1431,0],"nice":false,"zero":false},"axis":null},"color":{"field":"v","type":"quantitative","legend":null,"scale":{"interpolate":"rgb","domain":[0,0.5,1,1.4,1.75,2,2.5,3,3.6,4,5,6,6.5,7,8,9,9.5,10],"range":["#14107f","#1c19aa","#1e1ec3","#2332eb","#0a50ff","#0064ff","#0096ff","#00c3ff","#00e1f0","#00f0d7","#32d764","#bee11e","#f0d700","#ffbe00","#ff5500","#f00000","#af0000","#800000"]}}}},
{"data":{"name":"spots"},"mark":{"type":"circle","size":400,"opacity":0.28},"encoding":{"x":{"field":"x","type":"quantitative","scale":{"domain":[0,3881],"range":[0,3881],"nice":false,"zero":false},"axis":null},"y":{"field":"y","type":"quantitative","scale":{"domain":[1431,0],"range":[1431,0],"nice":false,"zero":false},"axis":null},"color":{"field":"v","type":"quantitative","legend":null,"scale":{"interpolate":"rgb","domain":[0,0.5,1,1.4,1.75,2,2.5,3,3.6,4,5,6,6.5,7,8,9,9.5,10],"range":["#14107f","#1c19aa","#1e1ec3","#2332eb","#0a50ff","#0064ff","#0096ff","#00c3ff","#00e1f0","#00f0d7","#32d764","#bee11e","#f0d700","#ffbe00","#ff5500","#f00000","#af0000","#800000"]}}}},
{"data":{"name":"bEdge"},"mark":{"type":"arc","radius2":537},"encoding":{"x":{"datum":2758,"type":"quantitative","scale":{"domain":[0,3881],"range":[0,3881],"nice":false,"zero":false},"axis":null},"y":{"datum":628.5,"type":"quantitative","scale":{"domain":[1431,0],"range":[1431,0],"nice":false,"zero":false},"axis":null},"theta":{"field":"t0","type":"quantitative","stack":null,"scale":{"domain":[0,360],"range":[0,6.283185]}},"theta2":{"field":"t1"},"radius":{"field":"r","type":"quantitative","stack":null,"scale":{"type":"linear","domain":[0,800],"range":[0,800]}},"color":{"field":"v","type":"quantitative","legend":null,"scale":{"interpolate":"rgb","domain":[0,0.5,1,1.4,1.75,2,2.5,3,3.6,4,5,6,6.5,7,8,9,9.5,10],"range":["#14107f","#1c19aa","#1e1ec3","#2332eb","#0a50ff","#0064ff","#0096ff","#00c3ff","#00e1f0","#00f0d7","#32d764","#bee11e","#f0d700","#ffbe00","#ff5500","#f00000","#af0000","#800000"]}}}},
{"data":{"name":"rings"},"mark":{"type":"arc","theta":0,"theta2":6.283185,"color":"#0a3c50"},"encoding":{"x":{"field":"cx","type":"quantitative","scale":{"domain":[0,3881],"range":[0,3881],"nice":false,"zero":false},"axis":null},"y":{"field":"cy","type":"quantitative","scale":{"domain":[1431,0],"range":[1431,0],"nice":false,"zero":false},"axis":null},"radius":{"field":"r","type":"quantitative","stack":null,"scale":{"type":"linear","domain":[0,800],"range":[0,800]}},"radius2":{"field":"r0"}}},
{"data":{"name":"edges"},"mark":{"type":"arc","theta":0,"theta2":6.283185,"color":"#3a2020"},"encoding":{"x":{"field":"cx","type":"quantitative","scale":{"domain":[0,3881],"range":[0,3881],"nice":false,"zero":false},"axis":null},"y":{"field":"cy","type":"quantitative","scale":{"domain":[1431,0],"range":[1431,0],"nice":false,"zero":false},"axis":null},"radius":{"field":"r","type":"quantitative","stack":null,"scale":{"type":"linear","domain":[0,800],"range":[0,800]}},"radius2":{"field":"r0"}}},
{"data":{"name":"hex"},"mark":{"type":"line","color":"#0a0a4a","strokeWidth":2.5,"strokeJoin":"miter"},"encoding":{"x":{"field":"x","type":"quantitative","scale":{"domain":[0,3881],"range":[0,3881],"nice":false,"zero":false},"axis":null},"y":{"field":"y","type":"quantitative","scale":{"domain":[1431,0],"range":[1431,0],"nice":false,"zero":false},"axis":null},"detail":{"field":"s"},"order":{"field":"o"}}},
{"data":{"name":"ticks"},"mark":{"type":"rule","color":"#111111","strokeWidth":2,"opacity":0.6},"encoding":{"x":{"field":"x","type":"quantitative","scale":{"domain":[0,3881],"range":[0,3881],"nice":false,"zero":false},"axis":null},"x2":{"field":"x2"},"y":{"field":"y","type":"quantitative","scale":{"domain":[1431,0],"range":[1431,0],"nice":false,"zero":false},"axis":null}}},
{"data":{"name":"units"},"mark":{"type":"text","font":"DejaVu Sans","fontSize":56,"align":"left","baseline":"alphabetic","color":"#111111"},"encoding":{"x":{"field":"x","type":"quantitative","scale":{"domain":[0,3881],"range":[0,3881],"nice":false,"zero":false},"axis":null},"y":{"field":"y","type":"quantitative","scale":{"domain":[1431,0],"range":[1431,0],"nice":false,"zero":false},"axis":null},"text":{"field":"t"}}},
{"data":{"name":"sups"},"mark":{"type":"text","font":"DejaVu Sans","fontSize":36,"align":"left","baseline":"alphabetic","color":"#111111"},"encoding":{"x":{"field":"x","type":"quantitative","scale":{"domain":[0,3881],"range":[0,3881],"nice":false,"zero":false},"axis":null},"y":{"field":"y","type":"quantitative","scale":{"domain":[1431,0],"range":[1431,0],"nice":false,"zero":false},"axis":null},"text":{"field":"t"}}},
{"data":{"name":"parens"},"mark":{"type":"text","font":"Liberation Serif","fontSize":88,"align":"left","baseline":"alphabetic","color":"#000000"},"encoding":{"x":{"field":"x","type":"quantitative","scale":{"domain":[0,3881],"range":[0,3881],"nice":false,"zero":false},"axis":null},"y":{"field":"y","type":"quantitative","scale":{"domain":[1431,0],"range":[1431,0],"nice":false,"zero":false},"axis":null},"text":{"field":"t"}}},
{"data":{"name":"letters"},"mark":{"type":"text","font":"Liberation Serif","fontSize":88,"fontWeight":"bold","align":"left","baseline":"alphabetic","color":"#000000"},"encoding":{"x":{"field":"x","type":"quantitative","scale":{"domain":[0,3881],"range":[0,3881],"nice":false,"zero":false},"axis":null},"y":{"field":"y","type":"quantitative","scale":{"domain":[1431,0],"range":[1431,0],"nice":false,"zero":false},"axis":null},"text":{"field":"t"}}}
],
"resolve":{"scale":{"color":"independent"}}
}
